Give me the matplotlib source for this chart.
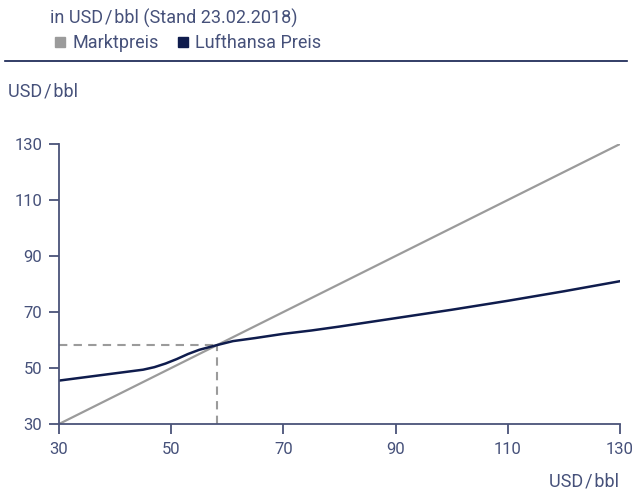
import numpy as np
import matplotlib
matplotlib.use('Agg')
import matplotlib.pyplot as plt
from matplotlib.lines import Line2D

plt.rcParams['font.family'] = ['Roboto', 'DejaVu Sans']

# Marktpreis (Diagonale)
mkt_x = [30, 130]
mkt_y = [30, 130]

# Lufthansa Preis
lh_x = [30, 35, 40, 45, 47, 49, 51, 53, 55, 58.2, 61, 65, 70, 75, 80,
        90, 100, 110, 120, 130]
lh_y = [45.5, 46.8, 48.1, 49.4, 50.3, 51.6, 53.2, 55.0, 56.5, 58.2, 59.6,
        60.7, 62.2, 63.4, 64.8, 67.8, 70.8, 74.0, 77.4, 81.0]

cross = 58.2
xticks = [30, 50, 70, 90, 110, 130]
yticks = [30, 50, 70, 90, 110, 130]
unit = 'USD\u200a/\u200abbl'

c_mkt  = '#9b9b9b'
c_lh   = '#0f1c4d'
c_axis = '#4a5378'
c_txt  = '#46517a'

W, H = 633, 491
fig = plt.figure(figsize=(W/100., H/100.), dpi=100)
ax = fig.add_axes([59./W, (H-424.)/H, 561./W, 280./H])

ax.plot([30, cross], [cross, cross], color=c_mkt, lw=1.5, ls=(0, (4, 3)))
ax.plot([cross, cross], [30, cross], color=c_mkt, lw=1.5, ls=(0, (4, 3)))
ax.plot(mkt_x, mkt_y, color=c_mkt, lw=1.6)
ax.plot(lh_x, lh_y, color=c_lh, lw=1.8)

ax.set_xlim(30, 130)
ax.set_ylim(30, 130)
ax.set_xticks(xticks)
ax.set_yticks(yticks)
for s in ['top', 'right']:
    ax.spines[s].set_visible(False)
for s in ['left', 'bottom']:
    ax.spines[s].set_color(c_axis)
    ax.spines[s].set_linewidth(1.3)
ax.tick_params(colors=c_axis, labelcolor=c_txt, labelsize=12, length=7,
               width=1.3)
ax.tick_params(axis='y', pad=5)
ax.tick_params(axis='x', pad=6)

fig.text(50./W, 1-18./H, 'in ' + unit + ' (Stand 23.02.2018)', fontsize=13,
         color=c_txt, va='center', ha='left')
h = [Line2D([], [], marker='s', ls='', color=c_mkt, markersize=7),
     Line2D([], [], marker='s', ls='', color=c_lh, markersize=7)]
fig.legend(h, ['Marktpreis', 'Lufthansa Preis'], loc='center left',
           bbox_to_anchor=(42./W, 1-43./H), ncol=2, frameon=False,
           fontsize=13, labelcolor=c_txt, handletextpad=0.2,
           columnspacing=0.8, borderpad=0, handlelength=1.0)
fig.add_artist(Line2D([5./W, 627./W], [1-61./H, 1-61./H], color=c_lh,
                      lw=1.2))
fig.text(8./W, 1-92./H, unit, fontsize=13, color=c_txt,
         va='center', ha='left')
fig.text(619./W, 1-482./H, unit, fontsize=13, color=c_txt,
         va='center', ha='right')

fig.savefig('out.png', dpi=100)
